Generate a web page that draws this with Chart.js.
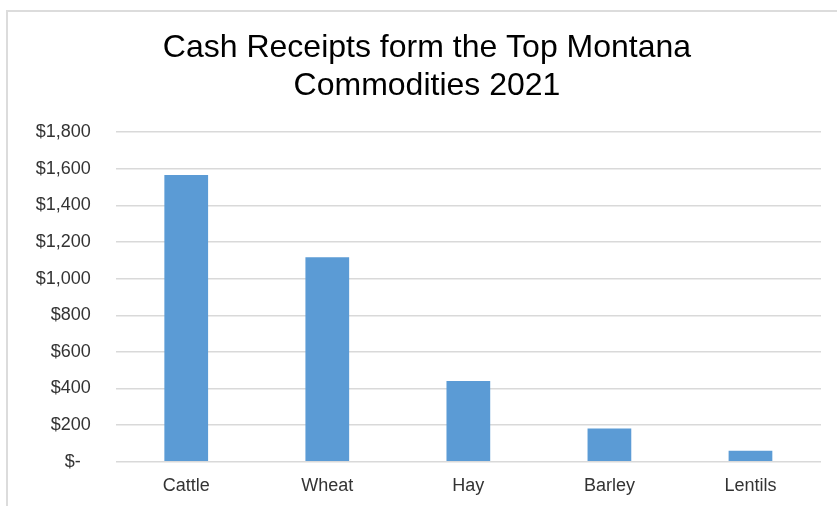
<!DOCTYPE html>
<html>
<head>
<meta charset="utf-8">
<script src="https://cdn.jsdelivr.net/npm/chart.js@4"></script>
<style>
  html, body { margin: 0; padding: 0; background: #fff; }
  #wrap { position: relative; width: 837px; height: 506px; overflow: hidden; }
  #frame { position: absolute; left: 6px; top: 10px; width: 900px; height: 600px;
           border-left: 2px solid #dcdcdc; border-top: 2px solid #dcdcdc; box-sizing: border-box; }
  canvas { position: absolute; left: 0; top: 0; }
</style>
</head>
<body>
<div id="wrap">
  <div id="frame"></div>
  <canvas id="c" width="837" height="506"></canvas>
</div>
<script>
const titleLines = ["Cash Receipts form the Top Montana", "Commodities 2021"];
const categories = ["Cattle", "Wheat", "Hay", "Barley", "Lentils"];
const receipts = [1566, 1117, 441, 182, 60];
const yMin = 0, yMax = 1800, yStep = 200;

const ctx = document.getElementById('c').getContext('2d');
new Chart(ctx, {
  type: 'bar',
  data: {
    labels: categories,
    datasets: [{
      label: 'Cash Receipts',
      data: receipts,
      backgroundColor: '#5b9bd5',
      borderWidth: 0,
      barPercentage: 0.31,
      categoryPercentage: 1.0
    }]
  },
  options: {
    responsive: false,
    animation: false,
    devicePixelRatio: 1,
    layout: { padding: { left: 33, right: 16, top: 0, bottom: 0 } },
    plugins: {
      legend: { display: false },
      tooltip: { enabled: false },
      title: {
        display: true,
        text: titleLines,
        color: '#000',
        font: { family: 'Liberation Sans, Arial, sans-serif', size: 32, weight: 'normal', lineHeight: 1.16 },
        padding: { top: 30, bottom: 28 }
      }
    },
    scales: {
      x: {
        grid: { display: false, drawTicks: false },
        border: { display: false },
        ticks: {
          color: '#333',
          padding: 14,
          font: { family: 'Liberation Sans, Arial, sans-serif', size: 18 }
        },
        afterFit(scale) { scale.height = 44.3; }
      },
      y: {
        min: yMin, max: yMax,
        grid: { color: '#d9d9d9', lineWidth: 1.5, drawTicks: false },
        border: { display: false },
        ticks: {
          stepSize: yStep,
          color: '#333',
          padding: 25,
          font: { family: 'Liberation Sans, Arial, sans-serif', size: 18 },
          callback: (v) => v === 0 ? '$-  ' : '$' + Number(v).toLocaleString('en-US')
        },
        afterFit(scale) { scale.width = 82.7; }
      }
    }
  }
});
</script>
</body>
</html>
